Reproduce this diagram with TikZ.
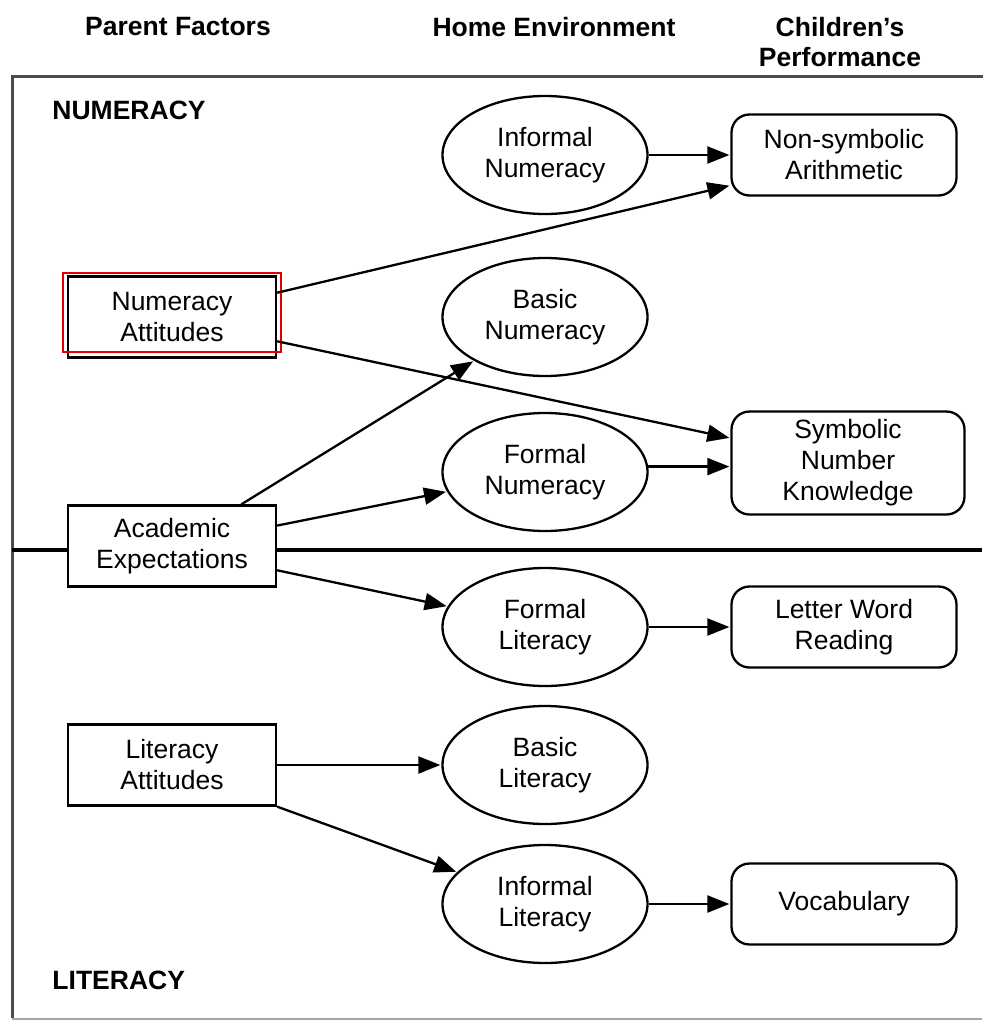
\documentclass[tikz,border=0pt]{standalone}
\usepackage{fontspec}
\setmainfont{Liberation Sans}
\usetikzlibrary{arrows.meta, positioning, shapes.geometric, calc}

\begin{document}
\begin{tikzpicture}[x=1pt,y=-1pt,shorten >=1pt,on grid,auto,
   line width=2.3pt,
   >={Triangle[length=22pt,width=17pt]},
   font=\fontsize{26.5}{31}\selectfont,
   factor/.style={draw,fill=white,align=center,minimum width=208pt,minimum height=81pt,inner sep=0pt},
   env/.style={draw,ellipse,fill=white,align=center,minimum width=205pt,minimum height=118pt,inner sep=0pt},
   perf/.style={draw,fill=white,rounded corners=18pt,align=center,minimum width=225pt,minimum height=81pt,inner sep=0pt},
   head/.style={font=\fontsize{26.5}{30}\selectfont\bfseries,align=center}]
   \useasboundingbox (0,0) rectangle (983,1021);
   % frame and divider
   \draw[black!70,line width=3pt] (983,76) -- (12,76) -- (12,1019);
   \draw[black!35,line width=2pt] (12,1019) -- (983,1019);
   \draw[line width=3.8pt] (12,550) -- (983,550);
   % headings
   \node[head] (h_par) at (178,27) {Parent Factors};
   \node[head] (h_home) at (554,27) {Home Environment};
   \node[head] (h_perf) at (840,42) {Children's\\Performance};
   \node[head,anchor=west] (h_num) at (48,110) {NUMERACY};
   \node[head,anchor=west] (h_lit) at (48,980) {LITERACY};
   % home environment
   \node[env] (inf_num) at (545,155) {Informal\\Numeracy};
   \node[env] (bas_num) [below=162pt of inf_num] {Basic\\Numeracy};
   \node[env] (for_num) [below=155pt of bas_num] {Formal\\Numeracy};
   \node[env] (for_lit) [below=155pt of for_num] {Formal\\Literacy};
   \node[env] (bas_lit) [below=138pt of for_lit] {Basic\\Literacy};
   \node[env] (inf_lit) [below=139pt of bas_lit] {Informal\\Literacy};
   % parent factors
   \node[factor] (num_att) [left=373pt of bas_num] {Numeracy\\Attitudes};
   \node[factor] (acad_exp) [below=229pt of num_att] {Academic\\Expectations};
   \node[factor] (lit_att) [left=373pt of bas_lit] {Literacy\\Attitudes};
   \draw[red!90!black,line width=2pt] ($(num_att.north west)+(-4,-2)$) rectangle ($(num_att.south east)+(4,-7)$);
   % performance
   \node[perf] (arith) [right=299pt of inf_num] {Non-symbolic\\Arithmetic};
   \node[perf,minimum width=233pt,minimum height=103pt] (symb) [above right=9pt and 303pt of for_num] {Symbolic\\Number\\Knowledge};
   \node[perf] (read) [right=299pt of for_lit] {Letter Word\\Reading};
   \node[perf] (vocab) [right=299pt of inf_lit] {Vocabulary};
   \path[->]
   (inf_num) edge (arith)
   (num_att.13) edge (arith.195)
   (num_att.347) edge (symb)
   (acad_exp.31) edge (bas_num)
   (acad_exp.11) edge (for_num)
   (acad_exp.347) edge (for_lit)
   (for_num.3) edge (for_num.3 -| symb.west)
   (for_lit) edge (read)
   (lit_att) edge (bas_lit)
   (lit_att.south east) edge (inf_lit)
   (inf_lit) edge (vocab);
\end{tikzpicture}
\end{document}
